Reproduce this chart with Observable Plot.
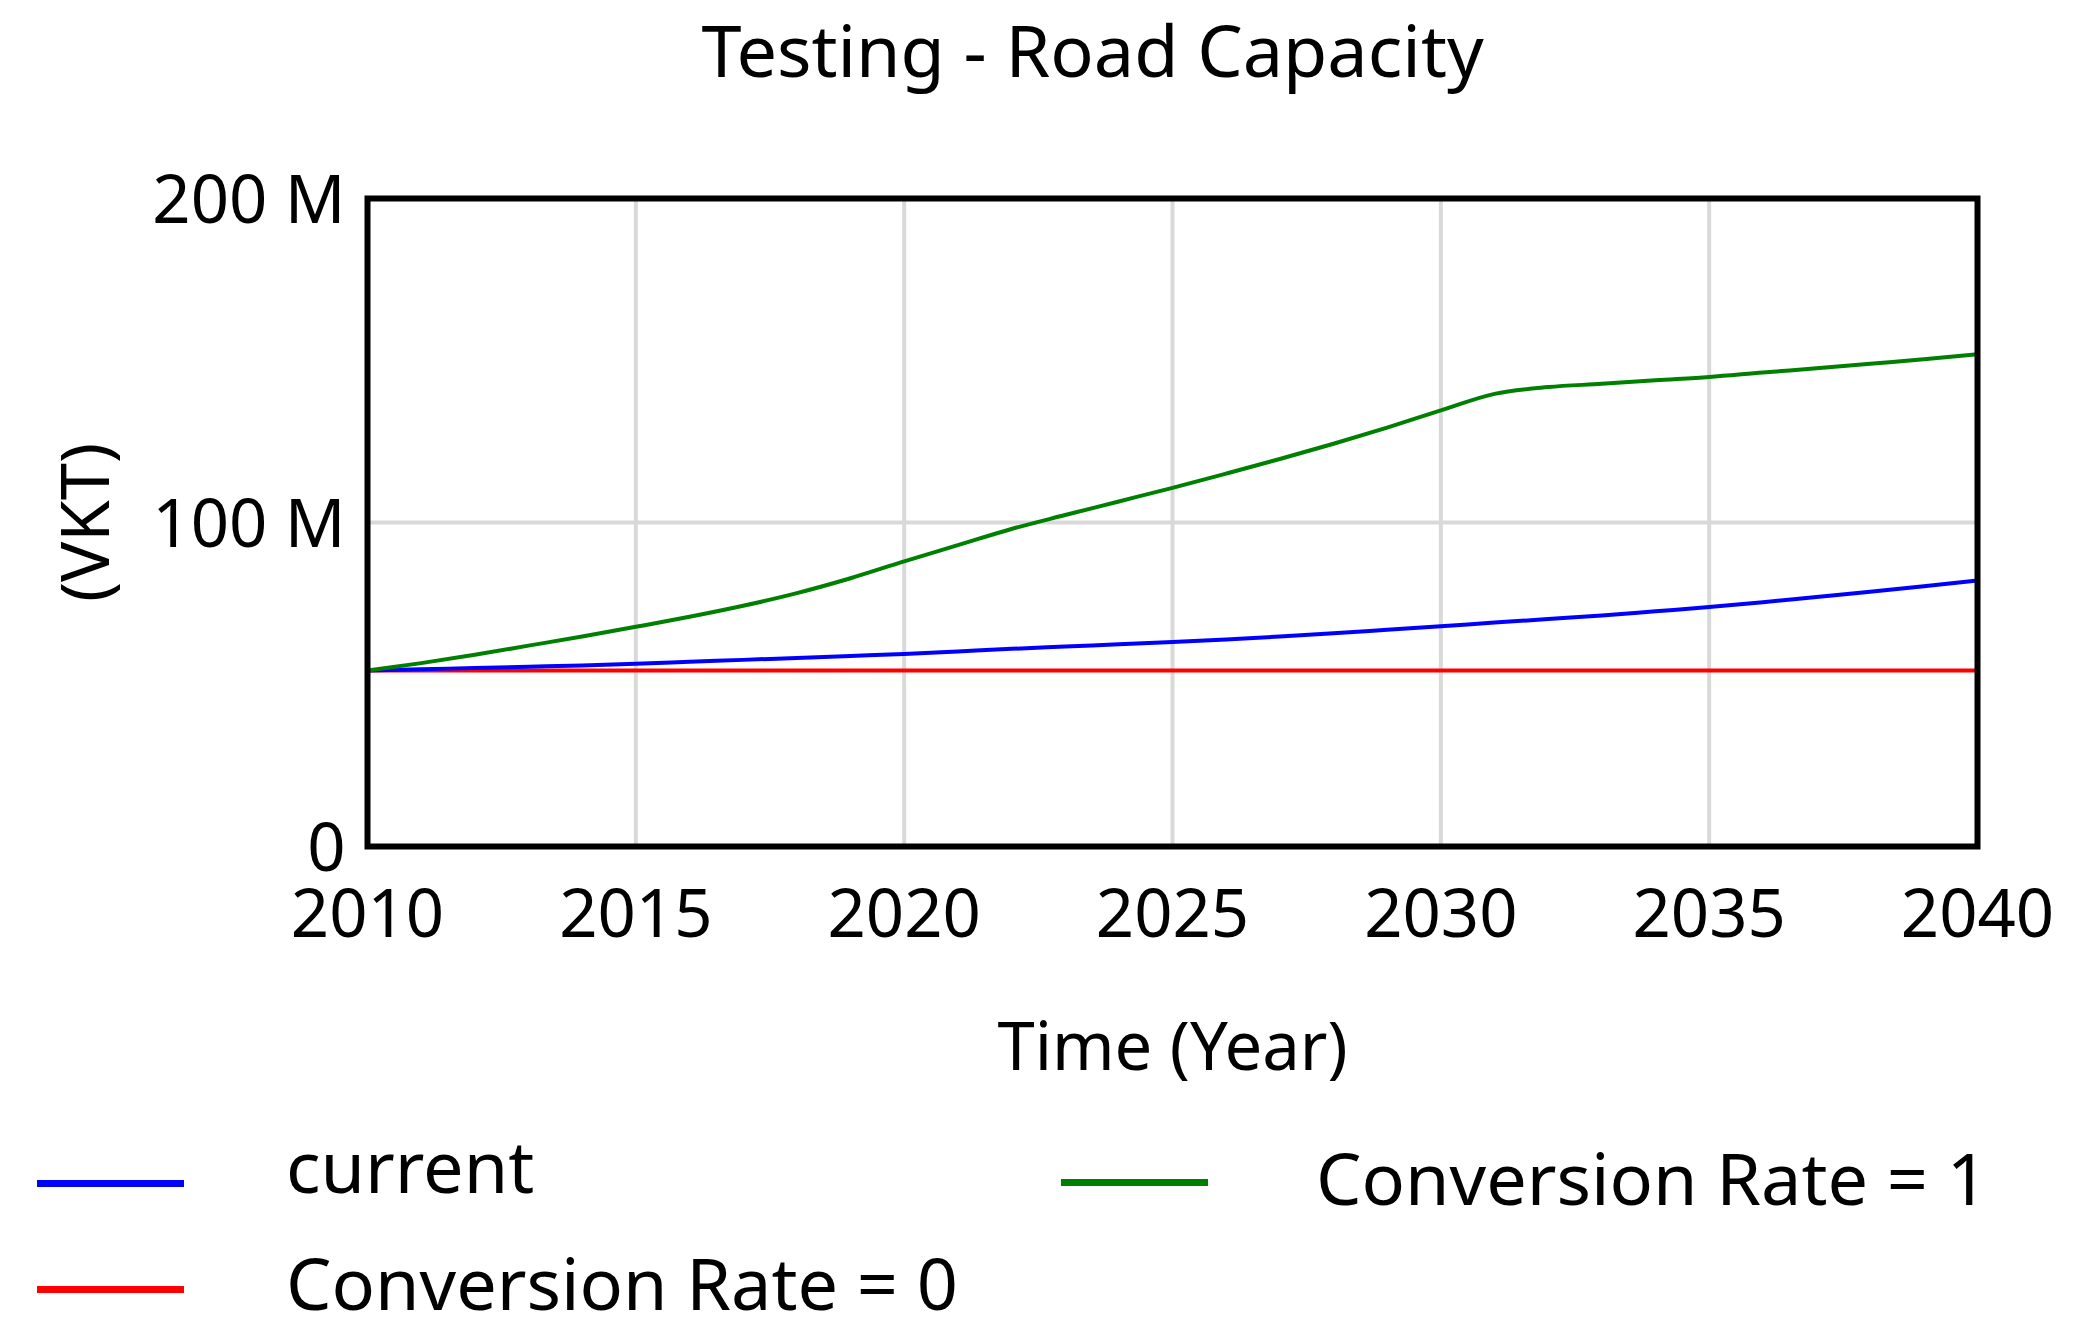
<!DOCTYPE html>
<html><head><meta charset="utf-8">
<script src="https://cdn.jsdelivr.net/npm/d3@7"></script>
<script src="https://cdn.jsdelivr.net/npm/@observablehq/plot@0.6"></script>
<style>
html,body{margin:0;padding:0;background:#fff;}
body{width:2085px;height:1341px;overflow:hidden;font-family:"Noto Sans",sans-serif;color:#000;}
#title{height:130px;box-sizing:border-box;padding-top:13px;padding-left:100px;text-align:center;font-size:72px;line-height:72px;white-space:nowrap;}
#chart svg{display:block;}
#legend{position:relative;height:221px;}
.sw{position:absolute;height:7px;width:147px;}
.lt{position:absolute;font-size:72px;line-height:72px;white-space:nowrap;}
</style></head><body>
<div id="title"></div>
<div id="chart"></div>
<div id="legend"></div>
<script>
const titleText = "Testing - Road Capacity";
const xLabel = "Time (Year)";
const yLabel = "(VKT)";
const years = [2010,2011,2012,2013,2014,2015,2016,2017,2018,2019,2020,2021,2022,2023,2024,2025,2026,2027,2028,2029,2030,2031,2032,2033,2034,2035,2036,2037,2038,2039,2040];
// values in millions of VKT
const current = [54.3,54.7,55.1,55.5,55.9,56.4,57.0,57.6,58.2,58.8,59.4,60.2,61.0,61.7,62.4,63.1,63.9,64.8,65.8,66.9,68.0,69.1,70.2,71.3,72.6,73.9,75.4,77.0,78.6,80.3,82.1];
const rate0 = [54.3,54.3,54.3,54.3,54.3,54.3,54.3,54.3,54.3,54.3,54.3,54.3,54.3,54.3,54.3,54.3,54.3,54.3,54.3,54.3,54.3,54.3,54.3,54.3,54.3,54.3,54.3,54.3,54.3,54.3,54.3];
const rate1 = [54.3,56.6,59.2,62.0,64.8,67.8,70.9,74.3,78.2,82.8,88.0,93.0,98.0,102.3,106.5,110.7,115.1,119.6,124.3,129.3,134.6,139.7,141.8,142.8,143.9,144.9,146.3,147.6,149.0,150.4,151.9];
const seriesNames = ["current","Conversion Rate = 0","Conversion Rate = 1"];
const seriesColors = ["#0000ff","#ff0000","#008000"];
const xTicks = [2010,2015,2020,2025,2030,2035,2040];
const yTicks = [0,100,200];
const yTickLabels = ["0","100 M","200 M"];

document.getElementById("title").textContent = titleText;

const seriesValues = [current, rate0, rate1];
const rows = [];
// draw order: red, blue, green
[1,0,2].forEach(k => years.forEach((yr,i) => rows.push({year: yr, value: seriesValues[k][i], series: seriesNames[k]})));

const chart = Plot.plot({
  width: 2085, height: 990,
  marginTop: 68, marginBottom: 274, marginLeft: 367, marginRight: 108,
  style: {fontFamily: "'Noto Sans', sans-serif", background: "white", color: "black", overflow: "visible"},
  x: {domain: [2010, 2040]},
  y: {domain: [0, 200]},
  color: {domain: seriesNames, range: seriesColors},
  marks: [
    Plot.gridX(xTicks, {stroke: "#d9d9d9", strokeOpacity: 1, strokeWidth: 4}),
    Plot.gridY(yTicks.filter(t => t > 0 && t < 200), {stroke: "#d9d9d9", strokeOpacity: 1, strokeWidth: 4}),
    Plot.lineY(rows, {x: "year", y: "value", z: "series", stroke: "series", strokeWidth: 4, curve: "monotone-x"}),
    Plot.frame({stroke: "black", strokeWidth: 6}),
    Plot.axisX(xTicks, {tickSize: 0, tickPadding: 43, fontSize: 67, tickFormat: d => String(d), label: xLabel, labelAnchor: "center", labelArrow: "none", labelOffset: 223}),
    Plot.axisY(yTicks, {tickSize: 0, tickPadding: 22, fontSize: 67, dy: 3, tickFormat: d => yTickLabels[yTicks.indexOf(d)], label: yLabel, labelAnchor: "center", labelArrow: "none", labelOffset: 306})
  ]
});
document.getElementById("chart").appendChild(chart);

// legend (HTML, below the SVG)
const legend = document.getElementById("legend");
const legendItems = [
  {k: 0, lx: 37, ly: 60, tx: 286, ty: 9},
  {k: 2, lx: 1061, ly: 59, tx: 1316, ty: 21},
  {k: 1, lx: 37, ly: 166, tx: 286, ty: 126}
];
legendItems.forEach(it => {
  const sw = document.createElement("div");
  sw.className = "sw";
  sw.style.left = it.lx + "px"; sw.style.top = it.ly + "px";
  sw.style.background = seriesColors[it.k];
  legend.appendChild(sw);
  const t = document.createElement("div");
  t.className = "lt";
  t.style.left = it.tx + "px"; t.style.top = it.ty + "px";
  t.textContent = seriesNames[it.k];
  legend.appendChild(t);
});
</script>
</body></html>
